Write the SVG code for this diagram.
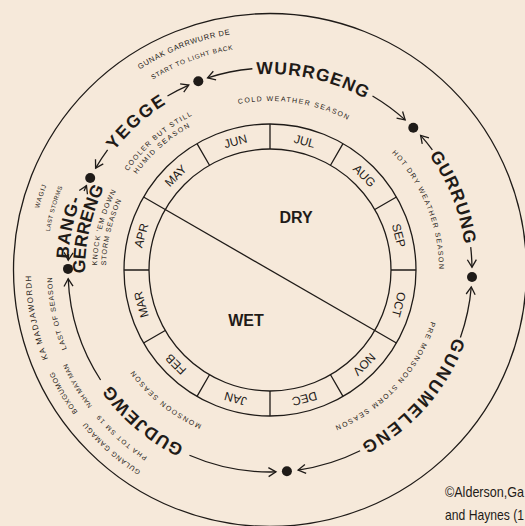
<svg xmlns="http://www.w3.org/2000/svg" width="525" height="526" viewBox="0 0 525 526">
<style>
.ln{fill:none;stroke:#1f1b18;stroke-width:1.3}
.ink{fill:#1f1b18}
.mo{font-family:"Liberation Sans",Arial,sans-serif;font-size:12px;fill:#1f1b18;text-anchor:middle}
.sn{font-family:"Liberation Sans",Arial,sans-serif;font-weight:bold;font-size:17.5px;fill:#1f1b18;text-anchor:middle;letter-spacing:1px}
.sm{font-family:"Liberation Sans",Arial,sans-serif;font-size:7px;fill:#1f1b18;text-anchor:middle}
.big{font-family:"Liberation Sans",Arial,sans-serif;font-weight:bold;font-size:16px;fill:#1f1b18;text-anchor:middle}
.cp{font-family:"Liberation Sans Narrow","Liberation Sans",Arial,sans-serif;font-size:15px;fill:#1f1b18}
</style>
<defs>
<marker id="ah" markerUnits="userSpaceOnUse" viewBox="-9 -6 11 12" markerWidth="11" markerHeight="12" refX="0" refY="0" orient="auto">
<path d="M-7.5,-4.5 L0,0 L-7.5,4.5" fill="none" stroke="#1f1b18" stroke-width="1.3"/>
</marker>
<path id="c196" d="M270 466 A196 196 0 1 1 270 74 A196 196 0 1 1 270 466"/>
<path id="c202" d="M270 472 A202 202 0 1 1 270 68 A202 202 0 1 1 270 472"/>
<path id="c185" d="M270 455 A185 185 0 1 1 270 85 A185 185 0 1 1 270 455"/>
<path id="c239" d="M270 509 A239 239 0 1 1 270 31 A239 239 0 1 1 270 509"/>
<path id="c223" d="M270 493.5 A223.5 223.5 0 1 1 270 46.5 A223.5 223.5 0 1 1 270 493.5"/>
<path id="c218" d="M270 488 A218 218 0 1 1 270 52 A218 218 0 1 1 270 488"/>
<path id="c169" d="M270 439 A169 169 0 1 1 270 101 A169 169 0 1 1 270 439"/>
<path id="c172" d="M270 443 A173 173 0 1 1 270 97 A173 173 0 1 1 270 443"/>
<path id="c164" d="M270 434 A164 164 0 1 1 270 106 A164 164 0 1 1 270 434"/>
</defs>
<rect width="525" height="526" fill="#f6e9da"/>

<g id="frame">
<circle class="ln" cx="270" cy="270" r="256.5"/>
<circle class="ln" cx="270" cy="270" r="146"/>
<circle class="ln" cx="270" cy="270" r="121"/>
<path class="ln" d="M391 270H416M374.79 330.5L396.44 343M330.5 374.79L343 396.44M270 391V416M209.5 374.79L197 396.44M165.21 330.5L143.56 343M149 270H124M165.21 209.5L143.56 197M209.5 165.21L197 143.56M270 149V124M330.5 165.21L343 143.56M374.79 209.5L396.44 197"/>
<path class="ln" d="M165.21 209.5L374.79 330.5"/>
</g>

<g id="months">
<g id="m-jul"><text class="mo" x="270" y="140.8" transform="rotate(15 270 270)">JUL</text></g>
<g id="m-aug"><text class="mo" x="270" y="140.8" transform="rotate(45 270 270)">AUG</text></g>
<g id="m-sep"><text class="mo" x="270" y="140.8" transform="rotate(75 270 270)">SEP</text></g>
<g id="m-oct"><text class="mo" x="270" y="140.8" transform="rotate(105 270 270)">OCT</text></g>
<g id="m-nov"><text class="mo" x="270" y="140.8" transform="rotate(135 270 270)">NOV</text></g>
<g id="m-dec"><text class="mo" x="270" y="140.8" transform="rotate(165 270 270)">DEC</text></g>
<g id="m-jan"><text class="mo" x="270" y="140.8" transform="rotate(195 270 270)">JAN</text></g>
<g id="m-feb"><text class="mo" x="270" y="140.8" transform="rotate(225 270 270)">FEB</text></g>
<g id="m-mar"><text class="mo" x="270" y="140.8" transform="rotate(255 270 270)">MAR</text></g>
<g id="m-apr"><text class="mo" x="270" y="140.8" transform="rotate(285 270 270)">APR</text></g>
<g id="m-may"><text class="mo" x="270" y="140.8" transform="rotate(315 270 270)">MAY</text></g>
<g id="m-jun"><text class="mo" x="270" y="140.8" transform="rotate(345 270 270)">JUN</text></g>
</g>

<g id="dry"><text class="big" x="296" y="223">DRY</text></g>
<g id="wet"><text class="big" x="246" y="326">WET</text></g>

<g id="connectors" class="ln" marker-end="url(#ah)">
<path d="M252.39 68.77 A202 202 0 0 0 207.58 77.89"/>
<path d="M372.52 95.95 A202 202 0 0 1 405.16 119.89"/>
<path d="M432.38 149.85 A202 202 0 0 0 420.59 135.36"/>
<path d="M470.70 247.13 A202 202 0 0 1 471.98 267.18"/>
<path d="M460.41 337.43 A202 202 0 0 0 471.29 286.90"/>
<path d="M360.13 450.78 A202 202 0 0 1 298.11 470.03"/>
<path d="M189.45 455.25 A202 202 0 0 0 275.99 471.91"/>
<path d="M100.59 380.02 A202 202 0 0 1 68.19 278.81"/>
<path d="M68.62 254.15 A202 202 0 0 0 68.24 260.13"/>
<path d="M84.06 191.07 A202 202 0 0 1 86.48 185.59"/>
<path d="M107.62 149.85 A202 202 0 0 0 95.60 168.06"/>
<path d="M167.48 95.95 A202 202 0 0 1 188.81 85.04"/>
</g>

<g id="dots" class="ink">
<circle cx="198.3" cy="81.2" r="5"/>
<circle cx="413.3" cy="127.7" r="5"/>
<circle cx="472" cy="277" r="5"/>
<circle cx="286.9" cy="471.3" r="5"/>
<circle cx="68" cy="268.9" r="5"/>
<circle cx="90.2" cy="178" r="5"/>
</g>

<g id="wurrgeng">
<text class="sn"><textPath href="#c196" startOffset="53.54%">WURRGENG</textPath></text>
<text class="sm" style="letter-spacing:1.4px"><textPath href="#c169" startOffset="52.36%">COLD WEATHER SEASON</textPath></text>
<text class="sm" style="font-size:7.5px;letter-spacing:0.7px"><textPath href="#c239" startOffset="44.10%">GUNAK GARRWURR DE</textPath></text>
<text class="sm" style="font-size:6.5px;letter-spacing:0.8px"><textPath href="#c223" startOffset="44.31%">START TO LIGHT BACK</textPath></text>
</g>

<g id="gurrung">
<text class="sn"><textPath href="#c196" startOffset="69.03%">GURRUNG</textPath></text>
<text class="sm" style="letter-spacing:1.4px"><textPath href="#c169" startOffset="68.92%">HOT DRY WEATHER SEASON</textPath></text>
</g>

<g id="gunumeleng">
<text class="sn" style="letter-spacing:2px"><textPath href="#c196" startOffset="86.53%">GUNUMELENG</textPath></text>
<text class="sm" style="letter-spacing:1.5px"><textPath href="#c169" startOffset="86.88%">PRE MONSOON STORM SEASON</textPath></text>
</g>

<g id="gudjewg">
<text class="sn"><textPath href="#c196" startOffset="11.18%">GUDJEWG</textPath></text>
<text class="sm" style="letter-spacing:1.5px"><textPath href="#c169" startOffset="10.82%">MONSOON SEASON</textPath></text>
<text class="sm" style="font-size:6.5px;letter-spacing:1.3px"><textPath href="#c223" startOffset="11.56%">PHA TOT SM 19</textPath></text>
<text class="sm" style="letter-spacing:0.9px"><textPath href="#c239" startOffset="11.57%">GULANG GAMAGU</textPath></text>
<text class="sm" style="font-size:6.5px;letter-spacing:0.4px"><textPath href="#c223" startOffset="16.39%">NAH MAY MAN</textPath></text>
<text class="sm" style="letter-spacing:0.7px"><textPath href="#c239" startOffset="16.47%">BOXGUMOG</textPath></text>
<text class="sm" style="font-size:8px;letter-spacing:1.2px"><textPath href="#c239" startOffset="21.82%">KA MADJAWORDH</textPath></text>
<text class="sm" style="letter-spacing:1px"><textPath href="#c218" startOffset="21.81%">LAST OF SEASON</textPath></text>
</g>

<g id="banggerreng">
<text class="sn"><textPath href="#c202" startOffset="28.33%">BANG-</textPath></text>
<text class="sn" style="letter-spacing:0"><textPath href="#c185" startOffset="28.53%">GERRENG</textPath></text>
<text class="sm" style="letter-spacing:1.1px"><textPath href="#c172" startOffset="29.03%">KNOCK 'EM DOWN</textPath></text>
<text class="sm" style="letter-spacing:1px"><textPath href="#c164" startOffset="28.75%">STORM SEASON</textPath></text>
<text class="sm" style="font-size:6.5px;letter-spacing:0.9px"><textPath href="#c239" startOffset="29.97%">WAGIJ</textPath></text>
<text class="sm" style="font-size:6px;letter-spacing:0.4px"><textPath href="#c223" startOffset="29.42%">LAST STORMS</textPath></text>
</g>

<g id="yegge">
<text class="sn" style="letter-spacing:2px"><textPath href="#c196" startOffset="38.33%">YEGGE</textPath></text>
<text class="sm" style="letter-spacing:1.3px"><textPath href="#c172" startOffset="38.67%">COOLER BUT STILL</textPath></text>
<text class="sm" style="letter-spacing:1.6px"><textPath href="#c164" startOffset="38.47%">HUMID SEASON</textPath></text>
</g>

<g id="credit">
<text class="cp" x="445" y="497" textLength="79" lengthAdjust="spacingAndGlyphs">©Alderson,Ga</text>
<text class="cp" x="445" y="520" textLength="79" lengthAdjust="spacingAndGlyphs">and Haynes (1</text>
</g>
</svg>
